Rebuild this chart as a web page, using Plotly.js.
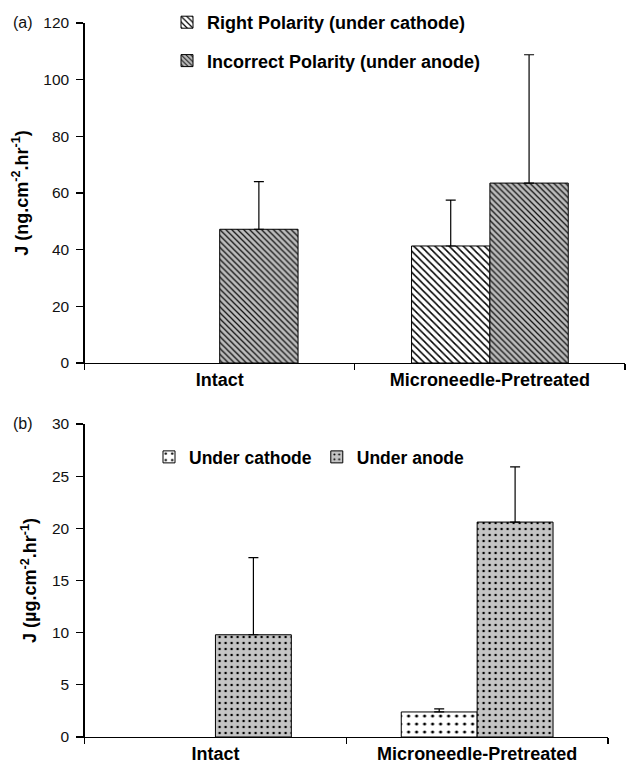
<!DOCTYPE html>
<html>
<head>
<meta charset="utf-8">
<script src="https://cdn.plot.ly/plotly-3.0.1.min.js"></script>
<style>html,body{margin:0;padding:0;background:#fff;}#chart{width:627px;height:770px;}</style>
</head>
<body>
<div id="chart"></div>
<script>
// ---- data ----
const categories = ['Intact', 'Microneedle-Pretreated'];

// panel (a): ng.cm-2.hr-1
const aCathode = [null, 41.3];
const aCathodeErr = [null, 16.2];
const aAnode = [47.2, 63.5];
const aAnodeErr = [16.8, 45.3];

// panel (b): µg.cm-2.hr-1
const bCathode = [null, 2.4];
const bCathodeErr = [null, 0.3];
const bAnode = [9.8, 20.6];
const bAnodeErr = [7.4, 5.3];

const aNames = ['Right Polarity (under cathode)', 'Incorrect Polarity (under anode)'];
const bNames = ['Under cathode', 'Under anode'];

const FONT = '"Liberation Sans", Arial, sans-serif';
const W = 627, H = 770;
const px = v => v / W;
const py = v => 1 - v / H;

function errUp(arr) {
  return {type: 'data', symmetric: false, array: arr, arrayminus: arr.map(v => v == null ? null : 0),
          color: '#000', thickness: 1.2, width: 5};
}

const traces = [
  {type: 'bar', name: aNames[0], x: categories, y: aCathode, xaxis: 'x', yaxis: 'y',
   legend: 'legend', legendgroup: 'a1',
   marker: {color: '#ffffff', line: {color: '#000', width: 1},
            pattern: {shape: '\\', size: 5, solidity: 0.3, fgcolor: '#000', bgcolor: '#ffffff', fillmode: 'replace'}},
   error_y: errUp(aCathodeErr)},
  {type: 'bar', name: aNames[1], x: categories, y: aAnode, xaxis: 'x', yaxis: 'y',
   legend: 'legend', legendgroup: 'a2',
   marker: {color: '#bdbdbd', line: {color: '#000', width: 1},
            pattern: {shape: '\\', size: 4.2, solidity: 0.3, fgcolor: '#111', bgcolor: '#bcbcbc', fillmode: 'replace'}},
   error_y: errUp(aAnodeErr)},
  {type: 'bar', name: bNames[0], x: categories, y: bCathode, xaxis: 'x2', yaxis: 'y2',
   legend: 'legend2',
   marker: {color: '#ffffff', line: {color: '#000', width: 1},
            pattern: {shape: '.', size: 8, solidity: 0.12, fgcolor: '#000', bgcolor: '#ffffff', fillmode: 'replace'}},
   error_y: errUp(bCathodeErr)},
  {type: 'bar', name: bNames[1], x: categories, y: bAnode, xaxis: 'x2', yaxis: 'y2',
   legend: 'legend2',
   marker: {color: '#c4c4c4', line: {color: '#000', width: 1},
            pattern: {shape: '.', size: 6, solidity: 0.14, fgcolor: '#000', bgcolor: '#c4c4c4', fillmode: 'replace'}},
   error_y: errUp(bAnodeErr)}
];

const xCommon = {
  type: 'category', showline: true, linecolor: '#000', linewidth: 1.3,
  ticks: 'outside', tickson: 'boundaries', ticklen: 6, tickcolor: '#000', tickwidth: 1.3,
  showgrid: false, zeroline: false,
  tickfont: {family: FONT, size: 18, color: '#000', weight: 'bold'}
};
const yCommon = {
  showline: true, linecolor: '#000', linewidth: 1.3,
  ticks: 'outside', ticklen: 7, tickcolor: '#000', tickwidth: 1.3,
  ticklabelstandoff: 4,
  showgrid: false, zeroline: false,
  tickfont: {family: FONT, size: 15.5, color: '#111'}
};

const layout = {
  width: W, height: H,
  margin: {l: 0, r: 0, t: 0, b: 0},
  paper_bgcolor: '#fff', plot_bgcolor: '#fff',
  font: {family: FONT, color: '#111'},
  barmode: 'group', bargap: 0.42, bargroupgap: 0,
  xaxis: Object.assign({}, xCommon, {domain: [px(84.6), px(625)], anchor: 'y'}),
  yaxis: Object.assign({}, yCommon, {domain: [py(363), py(23)], anchor: 'x', range: [0, 120], dtick: 20,
    title: {text: 'J (ng.cm<sup>-2</sup>.hr<sup>-1</sup>)', font: {family: FONT, size: 18, weight: 'bold', color: '#000'}, standoff: 10}}),
  xaxis2: Object.assign({}, xCommon, {domain: [px(84.6), px(608)], anchor: 'y2'}),
  yaxis2: Object.assign({}, yCommon, {domain: [py(737), py(424)], anchor: 'x2', range: [0, 30], dtick: 5,
    title: {text: 'J (µg.cm<sup>-2</sup>.hr<sup>-1</sup>)', font: {family: FONT, size: 18, weight: 'bold', color: '#000'}, standoff: 10}}),
  legend: {x: px(167), y: py(4), xanchor: 'left', yanchor: 'top', orientation: 'v',
    traceorder: 'grouped', tracegroupgap: 12, bgcolor: 'rgba(0,0,0,0)',
    font: {family: FONT, size: 18, weight: 'bold', color: '#000'}},
  legend2: {x: px(149), y: py(439), xanchor: 'left', yanchor: 'top', orientation: 'h',
    bgcolor: 'rgba(0,0,0,0)',
    font: {family: FONT, size: 17.5, weight: 'bold', color: '#000'}},
  annotations: [
    {text: '(a)', xref: 'paper', yref: 'paper', x: px(11), y: py(23), xanchor: 'left', yanchor: 'middle',
     showarrow: false, font: {family: FONT, size: 16, color: '#111'}},
    {text: '(b)', xref: 'paper', yref: 'paper', x: px(11), y: py(424), xanchor: 'left', yanchor: 'middle',
     showarrow: false, font: {family: FONT, size: 16, color: '#111'}}
  ],
  showlegend: true
};

Plotly.newPlot('chart', traces, layout, {displayModeBar: false, staticPlot: true});
</script>
</body>
</html>
